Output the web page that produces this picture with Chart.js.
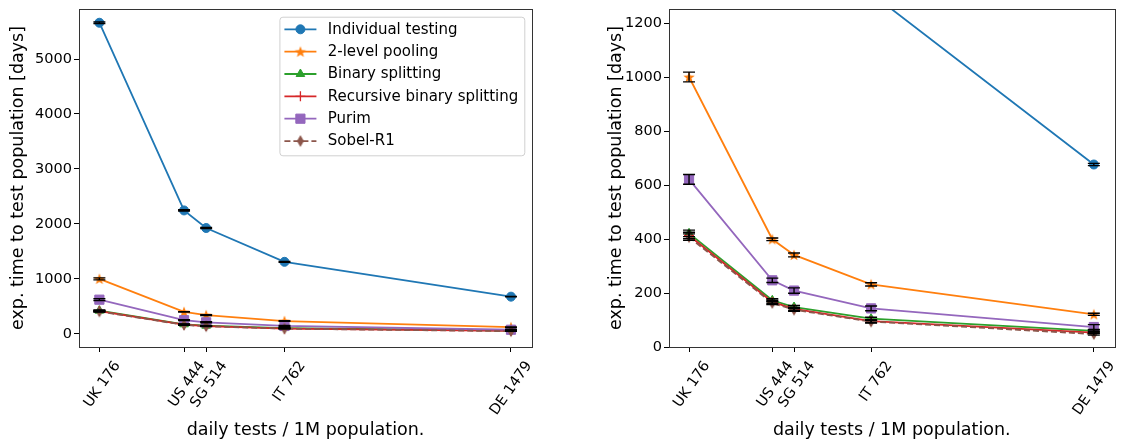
<!DOCTYPE html>
<html>
<head>
<meta charset="utf-8">
<script src="https://cdn.jsdelivr.net/npm/chart.js@4/dist/chart.umd.min.js"></script>
<style>
  html, body { margin: 0; padding: 0; background: #fff; overflow: hidden; }
  #left { position: absolute; left: 0; top: 0; }
  #right { position: absolute; left: 598px; top: 0; }
</style>
</head>
<body>
<canvas id="left" width="545" height="441"></canvas>
<canvas id="right" width="524" height="441"></canvas>
<script>
// daily tests per 1M population, per country
const countries = ["UK", "US", "SG", "IT", "DE"];
const dailyTests = [176, 444, 514, 762, 1479];

const seriesNames = ["Individual testing", "2-level pooling", "Binary splitting",
    "Recursive binary splitting", "Purim", "Sobel-R1"];
const seriesColors = ["#1f77b4", "#ff7f0e", "#2ca02c", "#d62728", "#9467bd", "#8c564b"];

// expected time to test population [days]
const individual = [5660, 2245, 1925, 1310, 676];
const twoLevel = [1000, 399, 341, 232, 121];
const binary = [421, 173, 148, 105, 60];
const recursive = [413, 167, 141, 96, 53];
const purim = [621, 247, 209, 143, 74];
const sobel = [407, 163, 138, 94, 48];

// error bar half-widths [days]
const individualErr = [15, 12, 12, 8, 4];
const twoLevelErr = [18, 5, 7, 6, 4];
const binaryErr = [12, 6, 6, 5, 3];
const recursiveErr = [12, 6, 6, 5, 3];
const purimErr = [18, 8, 10, 9, 9];
const sobelErr = [12, 6, 6, 5, 4];

const leftYTicks = [0, 1000, 2000, 3000, 4000, 5000];
const rightYTicks = [0, 200, 400, 600, 800, 1000, 1200];

const FONT = "'DejaVu Sans', sans-serif";
const TICK_SIZE = 14.5;
const TITLE_SIZE = 17.5;
const LEGEND_SIZE = 15;
Chart.defaults.font.family = FONT;
Chart.defaults.color = "#000";

function makeStar(color) {
    const c = document.createElement("canvas");
    c.width = 14; c.height = 14;
    const ctx = c.getContext("2d");
    ctx.beginPath();
    for (let i = 0; i < 10; i++) {
        const r = i % 2 === 0 ? 6 : 2.5;
        const a = -Math.PI / 2 + i * Math.PI / 5;
        ctx.lineTo(7 + r * Math.cos(a), 7.5 + r * Math.sin(a));
    }
    ctx.closePath();
    ctx.fillStyle = color;
    ctx.fill();
    return c;
}

function makeThinDiamond(color) {
    const c = document.createElement("canvas");
    c.width = 10; c.height = 14;
    const ctx = c.getContext("2d");
    ctx.beginPath();
    ctx.moveTo(5, 1);
    ctx.lineTo(8.5, 7);
    ctx.lineTo(5, 13);
    ctx.lineTo(1.5, 7);
    ctx.closePath();
    ctx.fillStyle = color;
    ctx.fill();
    return c;
}

const values = [individual, twoLevel, binary, recursive, purim, sobel];
const errors = [individualErr, twoLevelErr, binaryErr, recursiveErr, purimErr, sobelErr];
const markers = [
    { style: "circle", radius: 4.5 },
    { style: makeStar(seriesColors[1]), radius: 6 },
    { style: "triangle", radius: 5 },
    { style: "cross", radius: 5 },
    { style: "rect", radius: 6.5 },
    { style: makeThinDiamond(seriesColors[5]), radius: 6 }
];

function buildDatasets() {
    return seriesNames.map((name, i) => ({
        label: name,
        data: dailyTests.map((x, j) => ({ x: x, y: values[i][j] })),
        errors: errors[i],
        borderColor: seriesColors[i],
        backgroundColor: seriesColors[i],
        borderWidth: 1.8,
        borderDash: i === 5 ? [6, 3] : [],
        pointStyle: markers[i].style,
        pointRadius: markers[i].radius,
        pointBorderWidth: i === 3 ? 1.3 : 1,
        pointHoverRadius: markers[i].radius,
        tension: 0,
        clip: 0,
        order: seriesNames.length - i
    }));
}

const extrasPlugin = {
    id: "extras",
    afterDatasetsDraw(chart) {
        const { ctx, chartArea: a, scales } = chart;
        ctx.save();
        ctx.beginPath();
        ctx.rect(a.left, a.top, a.right - a.left, a.bottom - a.top);
        ctx.clip();
        ctx.strokeStyle = "#000";
        ctx.lineWidth = 1.4;
        chart.data.datasets.forEach((ds) => {
            ds.data.forEach((p, j) => {
                const e = ds.errors[j];
                const x = scales.x.getPixelForValue(p.x);
                const y1 = scales.y.getPixelForValue(p.y + e);
                const y2 = scales.y.getPixelForValue(p.y - e);
                ctx.beginPath();
                ctx.moveTo(x, y1); ctx.lineTo(x, y2);
                ctx.moveTo(x - 6, y1); ctx.lineTo(x + 6, y1);
                ctx.moveTo(x - 6, y2); ctx.lineTo(x + 6, y2);
                ctx.stroke();
            });
        });
        ctx.restore();

        ctx.save();
        ctx.strokeStyle = "#333";
        ctx.lineWidth = 1;
        ctx.strokeRect(Math.round(a.left) + 0.5, Math.round(a.top) + 0.5,
            Math.round(a.right - a.left), Math.round(a.bottom - a.top));
        ctx.restore();

        if (chart.options.plugins.extras.legend) {
            drawLegend(chart);
        }
    }
};

function drawLegend(chart) {
    const { ctx, chartArea: a } = chart;
    const datasets = chart.data.datasets;
    ctx.save();
    ctx.font = LEGEND_SIZE + "px " + FONT;
    const textW = Math.max(...datasets.map((d) => ctx.measureText(d.label).width));
    const w = 48.3 + textW + 6;
    const rowH = 22.35;
    const h = rowH * datasets.length + 4.5;
    const left = a.right - 7.7 - w;
    const top = a.top + 7.7;

    ctx.beginPath();
    ctx.roundRect(left + 0.5, top + 0.5, w, h, 3);
    ctx.fillStyle = "rgba(255,255,255,0.8)";
    ctx.fill();
    ctx.strokeStyle = "#d0d0d0";
    ctx.lineWidth = 1;
    ctx.stroke();

    datasets.forEach((ds, i) => {
        const y = top + 12.6 + i * rowH;
        ctx.strokeStyle = ds.borderColor;
        ctx.lineWidth = ds.borderWidth;
        ctx.setLineDash(ds.borderDash);
        ctx.beginPath();
        ctx.moveTo(left + 5, y);
        ctx.lineTo(left + 37, y);
        ctx.stroke();
        ctx.setLineDash([]);
        ctx.fillStyle = ds.backgroundColor;
        ctx.lineWidth = ds.pointBorderWidth;
        Chart.helpers.drawPoint(ctx, {
            pointStyle: ds.pointStyle,
            radius: ds.pointRadius,
            rotation: 0,
            borderWidth: ds.pointBorderWidth
        }, left + 21, y);
        ctx.fillStyle = "#000";
        ctx.textBaseline = "middle";
        ctx.textAlign = "left";
        ctx.fillText(ds.label, left + 48.3, y + 0.5);
    });
    ctx.restore();
}

function makeChart(canvas, yMin, yMax, yTicks, showLegend, yWidth, rightPad) {
    return new Chart(canvas, {
        type: "line",
        data: { datasets: buildDatasets() },
        plugins: [extrasPlugin],
        options: {
            responsive: false,
            animation: false,
            layout: { padding: { top: 9, right: rightPad, left: 0, bottom: 0 } },
            plugins: {
                legend: { display: false },
                tooltip: { enabled: false },
                extras: { legend: showLegend }
            },
            scales: {
                x: {
                    type: "linear",
                    min: 111.5,
                    max: 1545.5,
                    afterBuildTicks: (scale) => {
                        scale.ticks = dailyTests.map((v) => ({ value: v }));
                    },
                    afterFit: (scale) => {
                        scale.height = 94;
                        scale.paddingLeft = 0;
                        scale.paddingRight = 0;
                    },
                    ticks: {
                        minRotation: 55,
                        maxRotation: 55,
                        padding: 6,
                        labelOffset: 18,
                        font: { size: TICK_SIZE },
                        color: "#000",
                        callback: (value) => {
                            const j = dailyTests.indexOf(value);
                            return j >= 0 ? countries[j] + " " + value : "";
                        }
                    },
                    grid: {
                        display: true,
                        drawOnChartArea: false,
                        drawTicks: true,
                        tickLength: 5,
                        color: "#000"
                    },
                    border: { display: false },
                    title: {
                        display: true,
                        text: "daily tests / 1M population.",
                        font: { size: TITLE_SIZE, lineHeight: 1.2 },
                        color: "#000",
                        padding: { top: 0, bottom: 0.5 }
                    }
                },
                y: {
                    type: "linear",
                    min: yMin,
                    max: yMax,
                    afterBuildTicks: (scale) => {
                        scale.ticks = yTicks.map((v) => ({ value: v }));
                    },
                    afterFit: (scale) => {
                        scale.width = yWidth;
                        scale.paddingTop = 0;
                        scale.paddingBottom = 0;
                    },
                    ticks: {
                        padding: 2,
                        font: { size: TICK_SIZE },
                        color: "#000",
                        callback: (value) => String(value)
                    },
                    grid: {
                        display: true,
                        drawOnChartArea: false,
                        drawTicks: true,
                        tickLength: 5,
                        color: "#000"
                    },
                    border: { display: false },
                    title: {
                        display: true,
                        text: "exp. time to test population [days]",
                        font: { size: TITLE_SIZE, lineHeight: 1.2 },
                        color: "#000",
                        padding: { top: 8, bottom: 0 }
                    }
                }
            }
        }
    });
}

makeChart(document.getElementById("left"), -240, 5910, leftYTicks, true, 79, 13);
makeChart(document.getElementById("right"), 0, 1252, rightYTicks, false, 71, 0);
</script>
</body>
</html>
